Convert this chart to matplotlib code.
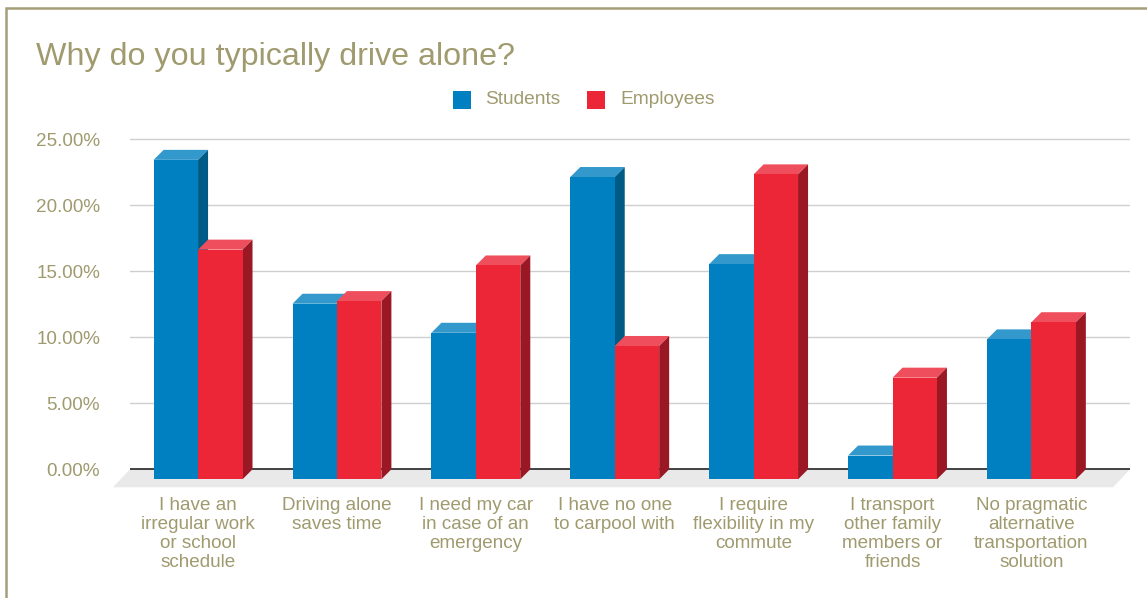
import numpy as np
import matplotlib.pyplot as plt
from matplotlib.patches import Polygon, Rectangle

categories = ["I have an\nirregular work\nor school\nschedule",
              "Driving alone\nsaves time",
              "I need my car\nin case of an\nemergency",
              "I have no one\nto carpool with",
              "I require\nflexibility in my\ncommute",
              "I transport\nother family\nmembers or\nfriends",
              "No pragmatic\nalternative\ntransportation\nsolution"]
students = [24.2, 13.3, 11.1, 22.9, 16.3, 1.8, 10.6]
employees = [17.4, 13.5, 16.2, 10.1, 23.1, 7.7, 11.9]
series = ["Students", "Employees"]
yticks = [0, 5, 10, 15, 20, 25]

plt.rcParams['font.family'] = ['Liberation Sans', 'DejaVu Sans']
tan = '#a09a6f'
# front, top, side colours
blue = ('#0080c0', '#3399cc', '#005a86')
red = ('#ec2637', '#ef4e5c', '#9a1824')

W, H = 1147, 598
fig = plt.figure(figsize=(W / 100, H / 100), dpi=100)

def fx(x):
    return x / W

def fy(y):
    return 1 - y / H

ax = fig.add_axes([fx(130), fy(489.1), 1000 / W, 363 / H])
ax.set_xlim(-0.49, 6.71)
ax.set_ylim(-1.5, 26)

w = 0.32
d = 10 / 13.2      # vertical depth offset (data units)
ox = 10 / 138.8    # horizontal depth offset
fxo, fyo = 17 / 138.8, 18 / 13.2

# gridlines on back wall
for t in yticks[1:]:
    ax.axhline(t, color='#cfcfcf', lw=1, zorder=0)

# floor
ax.add_patch(Polygon([(-0.49, 0), (6.71, 0), (6.71 - fxo, -fyo), (-0.49 - fxo, -fyo)],
                     closed=True, fc='#e9e9e9', ec='none', zorder=0.5, clip_on=False))
ax.plot([-0.49, 6.71], [0, 0], color='#222222', lw=1.2, zorder=1)

x = np.arange(len(categories))

def bars3d(xs, vals, cols, z):
    ax.bar(xs, vals, w, bottom=-d, align='edge', color=cols[0], zorder=z + 0.2)
    for x0, v in zip(xs, vals):
        x1 = x0 + w
        ax.add_patch(Polygon([(x0, v - d), (x1, v - d), (x1 + ox, v), (x0 + ox, v)],
                             closed=True, fc=cols[1], ec='none', zorder=z))
        ax.add_patch(Polygon([(x1, -d), (x1 + ox, 0), (x1 + ox, v), (x1, v - d)],
                             closed=True, fc=cols[2], ec='none', zorder=z))

bars3d(x - w, students, blue, 2)
bars3d(x, employees, red, 3)

ax.set_yticks(yticks)
ax.set_yticklabels([f"{t:.2f}%" for t in yticks], color=tan, fontsize=13.6)
ax.set_xticks(x)
ax.set_xticklabels(categories, color=tan, fontsize=13.6, linespacing=1.15)
ax.tick_params(axis='y', length=0, pad=21.6)
ax.tick_params(axis='x', length=0, pad=5.5)
for s in ax.spines.values():
    s.set_visible(False)

# title
fig.text(fx(36), fy(65), "Why do you typically drive alone?", color=tan,
         fontsize=23.2, ha='left', va='baseline')

# legend
for sx, tx, name, c in [(453, 485, series[0], blue[0]), (587, 620, series[1], red[0])]:
    fig.patches.append(Rectangle((fx(sx), fy(109)), 18 / W, 18 / H, fc=c, ec='none',
                                 transform=fig.transFigure))
    fig.text(fx(tx), fy(100), name, color=tan, fontsize=13.8, ha='left', va='center')

# outer frame
fig.patches.append(Rectangle((fx(5.5), fy(H + 10)), (W + 10) / W, (H + 2.5) / H,
                             fill=False, ec='#a59e78', lw=1.8, transform=fig.transFigure))

fig.savefig('out.png', dpi=100, facecolor='white')
